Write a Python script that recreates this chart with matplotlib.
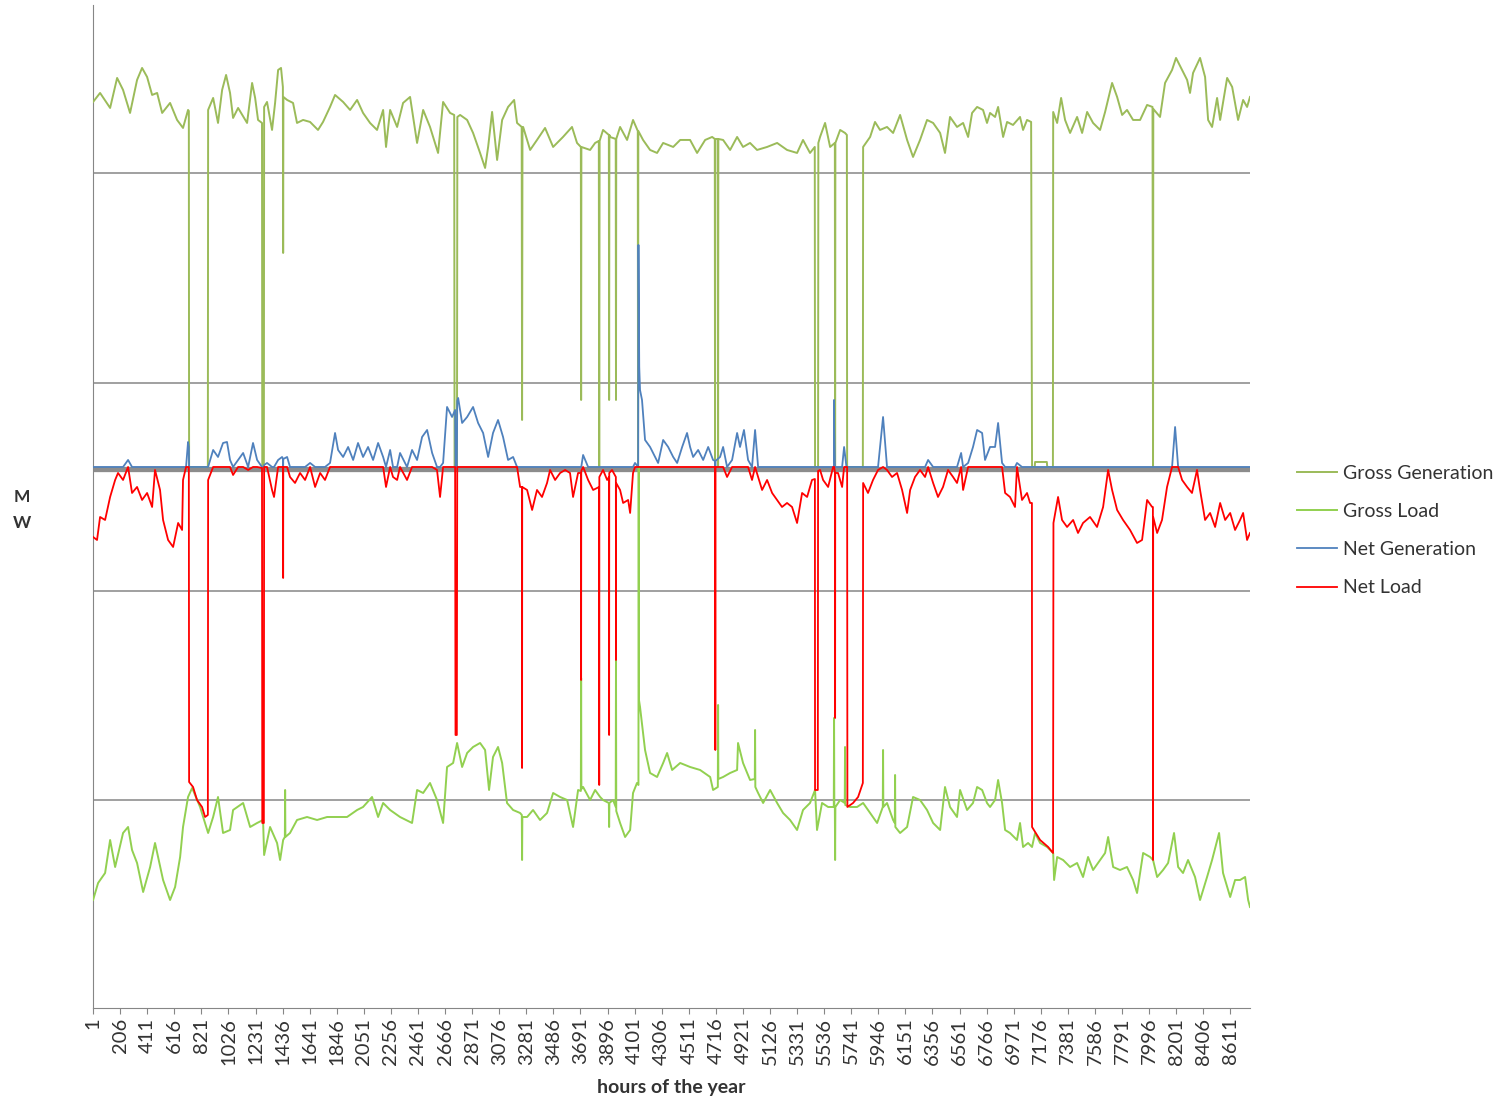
import numpy as np
import matplotlib
matplotlib.use("Agg")
import matplotlib.pyplot as plt

plt.rcParams['font.family'] = ['Lato', 'DejaVu Sans']

# (hour of year, MW)
gross_gen = [
    (1, 1825), (54, 1870), (130, 1795), (183, 1945), (228, 1885), (281, 1770), (334, 1935),
    (372, 1995), (410, 1950), (448, 1860), (486, 1870), (524, 1770), (584, 1820), (637, 1735),
    (682, 1695), (720, 1785), (726, 1780), (728, 0), (870, 0), (872, 1785), (910, 1845),
    (947, 1720), (978, 1885), (1008, 1960), (1038, 1870), (1061, 1745), (1099, 1795),
    (1167, 1720), (1205, 1920), (1228, 1845), (1250, 1735), (1280, 1720), (1282, 0), (1294, 0),
    (1296, 1800), (1318, 1825), (1356, 1685), (1379, 1820), (1402, 1985), (1424, 1995),
    (1438, 1900), (1440, 1070), (1442, 1850), (1470, 1835), (1515, 1820), (1545, 1720),
    (1591, 1735), (1644, 1725), (1704, 1685), (1742, 1725), (1795, 1800), (1833, 1860),
    (1894, 1825), (1947, 1785), (2000, 1835), (2045, 1770), (2098, 1720), (2151, 1685),
    (2197, 1785), (2219, 1600), (2250, 1785), (2303, 1700), (2348, 1820), (2401, 1850),
    (2454, 1620), (2500, 1785), (2552, 1700), (2613, 1570), (2651, 1825), (2704, 1770),
    (2735, 1760), (2738, 0), (2756, 0), (2759, 1750), (2780, 1760), (2833, 1735), (2878, 1670),
    (2931, 1570), (2969, 1495), (2992, 1600), (3022, 1775), (3060, 1535), (3098, 1735),
    (3143, 1800), (3189, 1835), (3211, 1720), (3246, 1700), (3249, 235), (3252, 1690),
    (3257, 1700), (3310, 1585), (3362, 1635), (3423, 1695), (3484, 1600), (3559, 1650),
    (3627, 1700), (3665, 1620), (3694, 1600), (3696, 335), (3698, 1600), (3764, 1585),
    (3802, 1620), (3830, 1630), (3833, 0), (3836, 1630), (3862, 1685), (3906, 1660),
    (3908, 335), (3910, 1660), (3915, 1650), (3958, 1640), (3960, 335), (3962, 1640),
    (3991, 1700), (4044, 1635), (4089, 1735), (4125, 1680), (4127, 0), (4129, 1680),
    (4165, 1635), (4218, 1585), (4271, 1570), (4317, 1620), (4393, 1600), (4446, 1635),
    (4521, 1635), (4574, 1570), (4635, 1635), (4688, 1650), (4708, 1640), (4710, 0),
    (4712, 1640), (4731, 1640), (4733, 0), (4735, 1640), (4771, 1635), (4824, 1585),
    (4877, 1650), (4922, 1600), (4975, 1620), (5028, 1585), (5104, 1600), (5180, 1620),
    (5255, 1585), (5331, 1570), (5376, 1635), (5429, 1570), (5465, 1600), (5467, 0), (5490, 0),
    (5492, 1620), (5505, 1650), (5543, 1720), (5581, 1600), (5617, 1620), (5619, 0),
    (5621, 1620), (5657, 1685), (5694, 1670), (5708, 1660), (5710, 0), (5829, 0), (5831, 1600),
    (5884, 1650), (5921, 1725), (5959, 1685), (6012, 1700), (6058, 1670), (6111, 1760),
    (6164, 1635), (6209, 1550), (6262, 1635), (6315, 1735), (6361, 1720), (6414, 1670),
    (6451, 1570), (6489, 1750), (6542, 1700), (6588, 1720), (6626, 1650), (6656, 1770),
    (6694, 1800), (6739, 1785), (6769, 1720), (6792, 1770), (6830, 1750), (6853, 1800),
    (6891, 1650), (6921, 1725), (6966, 1710), (7019, 1750), (7042, 1685), (7072, 1735),
    (7103, 1725), (7110, 0), (7130, 0), (7133, 25), (7222, 25), (7225, 0), (7268, 0),
    (7270, 1775), (7300, 1720), (7330, 1845), (7360, 1735), (7398, 1670), (7451, 1750),
    (7489, 1670), (7527, 1775), (7572, 1720), (7625, 1685), (7663, 1775), (7716, 1920),
    (7754, 1850), (7792, 1760), (7829, 1785), (7875, 1735), (7928, 1735), (7981, 1810),
    (8022, 1800), (8026, 0), (8028, 1790), (8079, 1750), (8117, 1920), (8170, 1985),
    (8200, 2045), (8246, 1985), (8284, 1935), (8306, 1870), (8329, 1970), (8382, 2045),
    (8420, 1950), (8443, 1735), (8473, 1700), (8511, 1845), (8534, 1735), (8587, 1945),
    (8625, 1900), (8670, 1735), (8708, 1835), (8738, 1800), (8760, 1850),
]

gross_load = [
    (1, -2165), (39, -2080), (92, -2030), (130, -1865), (168, -2000), (228, -1830), (266, -1800),
    (296, -1915), (334, -1980), (380, -2125), (433, -2000), (470, -1880), (493, -1950),
    (531, -2065), (584, -2165), (622, -2100), (660, -1950), (682, -1800), (720, -1650),
    (751, -1605), (811, -1700), (872, -1830), (910, -1750), (947, -1650), (985, -1830),
    (1038, -1815), (1061, -1715), (1137, -1680), (1190, -1800), (1243, -1780), (1288, -1765),
    (1296, -1940), (1341, -1800), (1394, -1880), (1417, -1965), (1440, -1865), (1453, -1850),
    (1455, -1615), (1457, -1850), (1492, -1830), (1545, -1765), (1621, -1750), (1697, -1765),
    (1773, -1750), (1848, -1750), (1924, -1750), (2000, -1715), (2045, -1700), (2113, -1650),
    (2159, -1750), (2197, -1680), (2250, -1715), (2325, -1750), (2416, -1780), (2454, -1615),
    (2500, -1630), (2552, -1580), (2605, -1665), (2651, -1780), (2681, -1500), (2727, -1480),
    (2757, -1380), (2795, -1500), (2833, -1430), (2878, -1400), (2931, -1380), (2969, -1415),
    (2999, -1615), (3029, -1450), (3067, -1400), (3098, -1480), (3135, -1680), (3181, -1715),
    (3234, -1730), (3247, -1740), (3249, -1965), (3251, -1750), (3287, -1750), (3332, -1715),
    (3385, -1765), (3438, -1730), (3484, -1630), (3537, -1650), (3590, -1665), (3635, -1800),
    (3673, -1615), (3694, -1620), (3696, -1055), (3698, -1610), (3711, -1600), (3764, -1665),
    (3802, -1615), (3840, -1650), (3862, -1665), (3906, -1680), (3908, -1800), (3910, -1680),
    (3938, -1665), (3958, -1700), (3960, -940), (3962, -1720), (3991, -1780), (4029, -1850),
    (4067, -1815), (4089, -1630), (4119, -1580), (4130, -1590), (4132, 0), (4134, -1165),
    (4142, -1200), (4180, -1415), (4218, -1530), (4271, -1550), (4317, -1480), (4347, -1430),
    (4385, -1515), (4446, -1480), (4521, -1500), (4597, -1515), (4673, -1550), (4695, -1615),
    (4731, -1600), (4733, -1190), (4735, -1560), (4771, -1550), (4824, -1530), (4877, -1515),
    (4884, -1380), (4922, -1480), (4975, -1565), (5011, -1560), (5013, -1315), (5015, -1600),
    (5036, -1630), (5074, -1680), (5127, -1615), (5180, -1680), (5225, -1730), (5278, -1765),
    (5331, -1815), (5376, -1715), (5429, -1680), (5467, -1615), (5482, -1815), (5520, -1680),
    (5566, -1700), (5609, -1700), (5611, -1255), (5613, -1700), (5617, -1700), (5619, -1965),
    (5621, -1700), (5657, -1665), (5692, -1680), (5694, -1400), (5696, -1690), (5732, -1700),
    (5785, -1700), (5831, -1680), (5884, -1730), (5937, -1780), (5980, -1700), (5982, -1415),
    (5984, -1700), (6012, -1680), (6058, -1765), (6071, -1780), (6073, -1540), (6075, -1800),
    (6111, -1830), (6164, -1800), (6209, -1650), (6262, -1665), (6315, -1715), (6361, -1780),
    (6414, -1815), (6451, -1600), (6489, -1700), (6542, -1750), (6565, -1615), (6618, -1715),
    (6663, -1680), (6694, -1600), (6732, -1615), (6769, -1680), (6792, -1700), (6830, -1665),
    (6853, -1565), (6883, -1680), (6906, -1815), (6943, -1830), (6996, -1865), (7019, -1780),
    (7042, -1900), (7080, -1880), (7110, -1900), (7133, -1830), (7171, -1880), (7224, -1900),
    (7270, -1930), (7277, -2065), (7300, -1950), (7345, -1965), (7398, -2000), (7451, -1980),
    (7496, -2050), (7534, -1950), (7572, -2015), (7625, -1965), (7663, -1930), (7686, -1850),
    (7724, -2000), (7776, -2015), (7829, -2000), (7875, -2065), (7905, -2130), (7951, -1930),
    (8004, -1950), (8026, -1965), (8057, -2050), (8102, -2015), (8140, -1980), (8185, -1830),
    (8216, -2000), (8253, -2030), (8291, -1965), (8344, -2050), (8382, -2165), (8435, -2050),
    (8473, -1965), (8526, -1830), (8556, -2030), (8610, -2150), (8647, -2065), (8685, -2065),
    (8723, -2050), (8746, -2165), (8760, -2200),
]

net = [
    (1, -350), (31, -365), (54, -250), (92, -265), (130, -150), (168, -65), (190, -30),
    (228, -65), (266, 35), (296, -130), (334, -100), (372, -165), (410, -130), (448, -200),
    (470, -15), (508, -115), (531, -265), (569, -365), (607, -400), (645, -280), (675, -315),
    (682, -65), (705, 0), (720, 125), (726, 100), (728, -1575), (758, -1600), (788, -1665),
    (826, -1700), (849, -1750), (870, -1740), (872, -65), (910, 85), (947, 50), (985, 120),
    (1015, 125), (1038, 35), (1061, -40), (1099, 35), (1137, 70), (1175, -15), (1212, 120),
    (1243, 35), (1280, -5), (1282, -1780), (1294, -1780), (1296, 10), (1318, 20), (1356, -115),
    (1371, -150), (1402, 35), (1432, 50), (1439, 40), (1440, -555), (1441, 40), (1470, 50),
    (1492, -50), (1530, -80), (1568, -30), (1606, -65), (1644, 20), (1682, -100), (1720, -30),
    (1757, -65), (1795, 20), (1833, 170), (1856, 85), (1894, 50), (1932, 100), (1970, 35),
    (2007, 120), (2045, 50), (2083, 100), (2121, 35), (2159, 120), (2197, 50), (2219, -100),
    (2250, 85), (2272, -50), (2303, -65), (2325, 70), (2378, -65), (2416, 85), (2454, 35),
    (2492, 150), (2530, 185), (2568, 70), (2605, -15), (2628, -150), (2651, 20), (2681, 300),
    (2719, 250), (2742, 285), (2745, -1340), (2755, -1340), (2758, 330), (2765, 345),
    (2795, 220), (2833, 250), (2878, 300), (2916, 220), (2954, 170), (2992, 50), (3029, 170),
    (3067, 235), (3105, 150), (3143, 35), (3181, 50), (3211, 0), (3234, -100), (3248, -100),
    (3249, -1505), (3250, -100), (3287, -115), (3325, -215), (3362, -115), (3400, -150),
    (3438, -80), (3461, -15), (3499, -65), (3537, -30), (3575, -15), (3612, -30), (3635, -150),
    (3673, -30), (3695, -30), (3696, -1065), (3697, -20), (3711, 60), (3749, -65), (3787, -115),
    (3832, -100), (3833, -1590), (3834, -50), (3862, -15), (3893, -65), (3907, -50),
    (3908, -1340), (3909, -30), (3930, -15), (3959, -50), (3960, -965), (3961, -80),
    (3991, -115), (4014, -180), (4052, -165), (4067, -230), (4089, -30), (4104, 20), (4128, 0),
    (4130, 1110), (4133, 760), (4136, 500), (4142, 385), (4157, 335), (4180, 135), (4218, 100),
    (4256, 50), (4279, 20), (4317, 135), (4355, 100), (4393, 50), (4423, 20), (4461, 100),
    (4498, 170), (4521, 100), (4544, 50), (4582, 85), (4620, 35), (4658, 100), (4695, 35),
    (4711, 30), (4712, -1415), (4713, 30), (4748, 50), (4771, 100), (4801, -50), (4839, 35),
    (4877, 170), (4899, 100), (4929, 185), (4960, 35), (4990, -65), (5013, 185), (5036, -50),
    (5066, -115), (5104, -65), (5142, -130), (5180, -165), (5217, -200), (5255, -180),
    (5293, -200), (5331, -280), (5369, -130), (5407, -150), (5444, -65), (5466, -60),
    (5467, -1615), (5488, -1615), (5490, -20), (5505, -15), (5528, -65), (5566, -100),
    (5604, 0), (5610, 0), (5611, 335), (5612, 200), (5618, -30), (5619, -1255), (5620, -30),
    (5641, -30), (5672, -100), (5687, 100), (5705, 0), (5710, 0), (5712, -1700), (5755, -1680),
    (5793, -1650), (5829, -1580), (5831, -80), (5868, -130), (5906, -65), (5944, -15),
    (5982, 250), (6012, -15), (6050, -50), (6088, -30), (6126, -115), (6164, -230),
    (6187, -115), (6224, -50), (6262, -15), (6300, -50), (6323, 35), (6361, -80), (6398, -150),
    (6436, -100), (6474, -15), (6512, -50), (6542, -80), (6573, 70), (6588, -115), (6626, 20),
    (6663, 100), (6694, 185), (6732, 170), (6754, 35), (6792, 100), (6830, 100), (6853, 220),
    (6883, 20), (6906, -130), (6943, -150), (6981, -200), (6996, 20), (7034, -165),
    (7072, -130), (7095, -180), (7109, -180), (7110, -1800), (7171, -1865), (7232, -1900),
    (7269, -1930), (7272, -280), (7307, -150), (7337, -265), (7375, -300), (7421, -265),
    (7458, -330), (7496, -280), (7549, -250), (7602, -300), (7648, -200), (7686, -15),
    (7716, -115), (7754, -215), (7799, -265), (7852, -315), (7905, -380), (7943, -365),
    (7981, -165), (8019, -200), (8025, -200), (8026, -1965), (8027, -250), (8057, -330),
    (8094, -265), (8132, -100), (8170, 0), (8193, 200), (8216, 0), (8246, -65), (8284, -100),
    (8321, -130), (8359, -15), (8382, -115), (8420, -265), (8458, -230), (8496, -300),
    (8534, -180), (8572, -265), (8610, -230), (8647, -315), (8685, -265), (8708, -230),
    (8738, -365), (8760, -330),
]

tick_hours = list(range(1, 8760, 205))
grid_levels = [1470, 420, -620, -1665]

gen_h, gen_v = np.array(gross_gen).T
load_h, load_v = np.array(gross_load).T
net_h, net_v = np.array(net).T
net_gen = np.maximum(net_v, 0)
net_load = np.minimum(net_v, 0)

fig = plt.figure(figsize=(15.05, 10.99), dpi=100)
ax = fig.add_axes([0.0618, 0.0828, 0.7688, 0.9127])

for g in grid_levels:
    ax.axhline(g, color='#868686', lw=1.1, zorder=1)
ax.axhline(-12, color='#8c8c8c', lw=3.8, zorder=2)

ax.plot(gen_h, gen_v, color='#9BBB59', lw=1.4, label='Gross Generation', zorder=3)
ax.plot(load_h, load_v, color='#92D050', lw=1.4, label='Gross Load', zorder=3)
ax.plot(net_h, net_gen, color='#4F81BD', lw=1.3, label='Net Generation', zorder=4)
ax.plot(net_h, net_load, color='#FF0000', lw=1.3, label='Net Load', zorder=5)

ax.set_xlim(0.5, 8760.5)
ax.set_ylim(-2705, 2310)
ax.set_yticks([])
ax.set_xticks(tick_hours)
ax.set_xticklabels([str(t) for t in tick_hours], rotation=90, fontsize=14.5, color='#333333')
ax.tick_params(axis='x', length=4, color='#868686', pad=3)
for s in ['top', 'right']:
    ax.spines[s].set_visible(False)
ax.spines['left'].set_color('#868686')
ax.spines['bottom'].set_color('#868686')

ax.set_xlabel('hours of the year', fontsize=14, fontweight='bold', color='#333333', labelpad=10)
fig.text(0.0146, 0.536, 'M\nW', fontsize=12.5, fontweight='bold', color='#333333',
         ha='center', va='center', linespacing=1.75)

leg = ax.legend(loc='upper left', bbox_to_anchor=(0.8618, 0.577), bbox_transform=fig.transFigure,
                frameon=False, handlelength=2.05, handletextpad=0.3, labelspacing=1.09,
                fontsize=14, borderaxespad=0, borderpad=0)
for t in leg.get_texts():
    t.set_color('#333333')

fig.savefig('out.png', dpi=100)
